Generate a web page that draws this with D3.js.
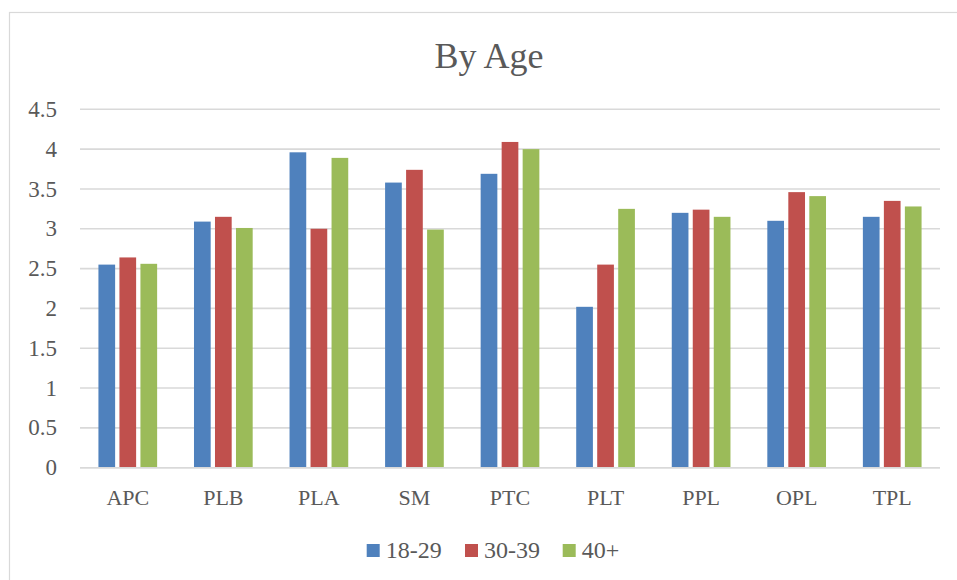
<!DOCTYPE html>
<html>
<head>
<meta charset="utf-8">
<script src="https://cdn.jsdelivr.net/npm/d3@7"></script>
<style>
  body { margin: 0; background: #fff; }
  svg text { font-family: "Liberation Serif", "DejaVu Serif", serif; fill: #595959; }
</style>
</head>
<body>
<svg id="chart" width="957" height="580"></svg>
<script>
// data
var categories = ["APC", "PLB", "PLA", "SM", "PTC", "PLT", "PPL", "OPL", "TPL"];
var seriesNames = ["18-29", "30-39", "40+"];
var age18_29 = [2.55, 3.09, 3.96, 3.58, 3.69, 2.02, 3.20, 3.10, 3.15];
var age30_39 = [2.64, 3.15, 3.00, 3.74, 4.09, 2.55, 3.24, 3.46, 3.35];
var age40plus = [2.56, 3.01, 3.89, 2.99, 4.00, 3.25, 3.15, 3.41, 3.28];
var yTicks = [0, 0.5, 1, 1.5, 2, 2.5, 3, 3.5, 4, 4.5];
var colors = ["#4f81bd", "#c0504d", "#9bbb59"];

var seriesValues = [age18_29, age30_39, age40plus];

var svg = d3.select("#chart");

// chart area frame (right/bottom edges run off the picture)
svg.append("rect")
    .attr("x", 9.5).attr("y", 12.5)
    .attr("width", 980).attr("height", 620)
    .attr("fill", "none")
    .attr("stroke", "#d9d9d9")
    .attr("stroke-width", 1.2);

var plotLeft = 80, plotRight = 940, plotTop = 109.3, plotBottom = 467.7;

var x0 = d3.scaleBand()
    .domain(categories)
    .range([plotLeft, plotRight])
    .padding(0);

var groupW = 58.7;
var x1 = d3.scaleBand()
    .domain(seriesNames)
    .range([0, groupW])
    .paddingInner(0.205)
    .paddingOuter(0);

var y = d3.scaleLinear()
    .domain([0, 4.5])
    .range([plotBottom, plotTop]);

// gridlines
svg.append("g")
    .selectAll("line")
    .data(yTicks)
    .enter()
    .append("line")
    .attr("x1", plotLeft)
    .attr("x2", plotRight)
    .attr("y1", function(d){ return y(d); })
    .attr("y2", function(d){ return y(d); })
    .attr("stroke", "#d9d9d9")
    .attr("stroke-width", 1.6);

// y labels
svg.append("g")
    .selectAll("text")
    .data(yTicks)
    .enter()
    .append("text")
    .attr("x", 57)
    .attr("y", function(d){ return y(d); })
    .attr("dy", "0.33em")
    .attr("text-anchor", "end")
    .attr("font-size", 23)
    .text(function(d){ return d; });

// bars
var bars = [];
categories.forEach(function(c, i){
    seriesNames.forEach(function(s, j){
        bars.push({cat: c, series: s, idx: j, value: seriesValues[j][i]});
    });
});

var offset = (x0.bandwidth() - groupW) / 2;
svg.append("g")
    .selectAll("rect")
    .data(bars)
    .enter()
    .append("rect")
    .attr("x", function(d){ return x0(d.cat) + offset + x1(d.series); })
    .attr("y", function(d){ return y(d.value); })
    .attr("width", x1.bandwidth())
    .attr("height", function(d){ return y(0) - y(d.value); })
    .attr("fill", function(d){ return colors[d.idx]; });

// baseline on top of the bars
svg.append("line")
    .attr("x1", plotLeft).attr("x2", plotRight)
    .attr("y1", y(0)).attr("y2", y(0))
    .attr("stroke", "#d9d9d9")
    .attr("stroke-width", 1.6);

// x labels
svg.append("g")
    .selectAll("text")
    .data(categories)
    .enter()
    .append("text")
    .attr("x", function(d){ return x0(d) + x0.bandwidth() / 2; })
    .attr("y", 505)
    .attr("text-anchor", "middle")
    .attr("font-size", 22)
    .text(function(d){ return d; });

// title
svg.append("text")
    .attr("x", 489)
    .attr("y", 68)
    .attr("text-anchor", "middle")
    .attr("font-size", 36)
    .text("By Age");

// legend
var legendX = [366.7, 465, 562.7];
var legend = svg.append("g")
    .selectAll("g")
    .data(seriesNames)
    .enter()
    .append("g")
    .attr("transform", function(d, i){ return "translate(" + legendX[i] + ",544)"; });

legend.append("rect")
    .attr("width", 13)
    .attr("height", 13)
    .attr("fill", function(d, i){ return colors[i]; });

legend.append("text")
    .attr("x", 19)
    .attr("y", 13.5)
    .attr("font-size", 24)
    .text(function(d){ return d; });
</script>
</body>
</html>
